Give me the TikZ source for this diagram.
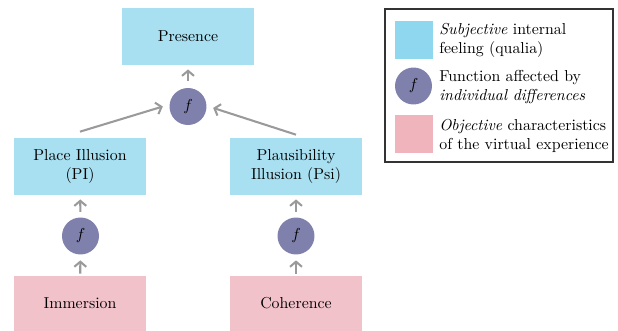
\documentclass[tikz,border=0pt]{standalone}
\usetikzlibrary{arrows.meta}
\definecolor{subjblue}{HTML}{A8E0F2}
\definecolor{legblue}{HTML}{8FD7EE}
\definecolor{objpink}{HTML}{F2C2CA}
\definecolor{legpink}{HTML}{F0B4BD}
\definecolor{funcpurple}{HTML}{7F80AB}
\definecolor{arrgray}{HTML}{9A9A9A}
\definecolor{legborder}{HTML}{333333}
\tikzset{
  subj/.style={fill=subjblue, draw=none, minimum width=83.16pt, minimum height=35.9pt, inner sep=0pt, align=center, font=\fontsize{10}{11.4}\selectfont},
  obj/.style={fill=objpink, draw=none, minimum width=83.16pt, minimum height=34.65pt, inner sep=0pt, align=center},
  func/.style={circle, fill=funcpurple, draw=none, minimum size=23.3pt, inner sep=0pt},
  arr/.style={draw=arrgray, line width=1.3pt, -{Straight Barb[length=3.2pt,width=7.5pt]}},
  legtext/.style={anchor=west, align=left, inner sep=0pt, font=\fontsize{10}{12.2}\selectfont},
}
\begin{document}
\begin{tikzpicture}[x=0.63pt,y=-0.63pt]
\useasboundingbox (0,0) rectangle (618,331);
% main nodes
\node[subj] (pres) at (188,36.5) {Presence};
\node[func] (f1) at (188,106.5) {$f$};
\node[subj] (pi) at (80,166.5) {Place Illusion\\(PI)};
\node[subj] (psi) at (296,166.5) {Plausibility\\Illusion (Psi)};
\node[func] (f2) at (80.5,236) {$f$};
\node[func] (f3) at (296,236) {$f$};
\node[obj] (imm) at (80,303.5) {Immersion};
\node[obj] (coh) at (296,303.5) {Coherence};
% connectors
\draw[arr, shorten <=4pt, shorten >=2.6pt] (f1) -- (pres);
\draw[arr] ([yshift=3.8pt]pi.north) -- ([xshift=-4pt]f1.west);
\draw[arr] ([yshift=1.9pt]psi.north) -- ([xshift=4pt,yshift=-0.9pt]f1.east);
\draw[arr, shorten <=3.4pt, shorten >=2.6pt] (f2) -- (pi);
\draw[arr, shorten <=3.4pt, shorten >=2.6pt] (f3) -- (psi);
\draw[arr, shorten <=1.3pt, shorten >=3.5pt] (imm) -- (f2);
\draw[arr, shorten <=1.3pt, shorten >=3.5pt] (coh) -- (f3);
% legend
\node[draw=legborder, line width=0.7pt, minimum width=143.6pt, minimum height=96.4pt, inner sep=0pt] (legend) at (499,85.5) {};
\node[fill=legblue, minimum size=23.9pt, inner sep=0pt] (lb) at (414,40) {};
\node[func] (lf) at (413.5,86) {$f$};
\node[fill=legpink, minimum size=23.9pt, inner sep=0pt] (lp) at (414,134) {};
\node[legtext] (lbt) at (439,40.5) {\textit{Subjective} internal\\feeling (qualia)};
\node[legtext] (lft) at (439,87) {Function affected by\\\textit{individual differences}};
\node[legtext] (lpt) at (439,136) {\textit{Objective} characteristics\\of the virtual experience};
\end{tikzpicture}
\end{document}
